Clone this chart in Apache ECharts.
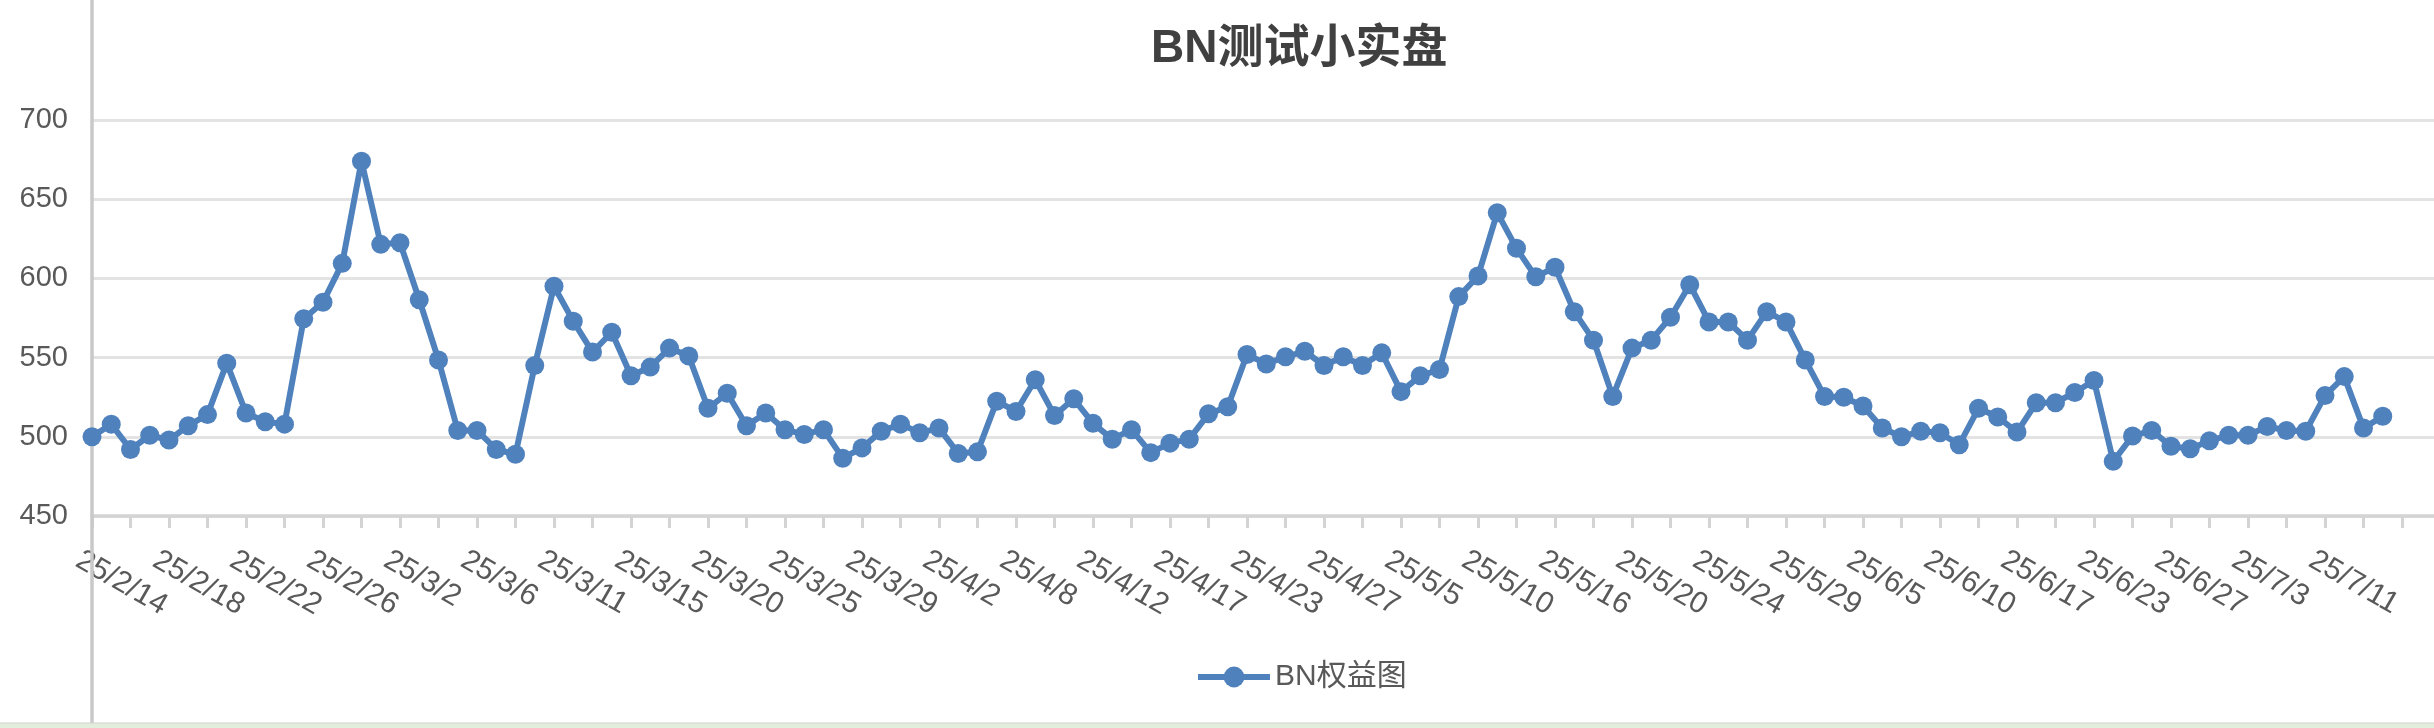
<!DOCTYPE html>
<html>
<head>
<meta charset="utf-8">
<script src="https://cdn.jsdelivr.net/npm/echarts@6/dist/echarts.min.js"></script>
<style>
  html, body { margin: 0; padding: 0; background: #ffffff; }
  #chart { width: 2434px; height: 728px; }
</style>
</head>
<body>
<div id="chart"></div>
<script>
// ---- data ----
const titleText = 'BN测试小实盘';
const seriesName = 'BN权益图';

const categories = [
  '25/2/14','25/2/15','25/2/16','25/2/17',
  '25/2/18','25/2/19','25/2/20','25/2/21',
  '25/2/22','25/2/23','25/2/24','25/2/25',
  '25/2/26','25/2/27','25/2/28','25/3/1',
  '25/3/2','25/3/3','25/3/4','25/3/5',
  '25/3/6','25/3/7','25/3/8','25/3/10',
  '25/3/11','25/3/12','25/3/13','25/3/14',
  '25/3/15','25/3/16','25/3/17','25/3/19',
  '25/3/20','25/3/21','25/3/22','25/3/24',
  '25/3/25','25/3/26','25/3/27','25/3/28',
  '25/3/29','25/3/30','25/3/31','25/4/1',
  '25/4/2','25/4/3','25/4/5','25/4/7',
  '25/4/8','25/4/9','25/4/10','25/4/11',
  '25/4/12','25/4/13','25/4/15','25/4/16',
  '25/4/17','25/4/18','25/4/20','25/4/22',
  '25/4/23','25/4/24','25/4/25','25/4/26',
  '25/4/27','25/4/29','25/5/1','25/5/3',
  '25/5/5','25/5/6','25/5/7','25/5/9',
  '25/5/10','25/5/11','25/5/13','25/5/15',
  '25/5/16','25/5/17','25/5/18','25/5/19',
  '25/5/20','25/5/21','25/5/22','25/5/23',
  '25/5/24','25/5/25','25/5/26','25/5/28',
  '25/5/29','25/5/31','25/6/2','25/6/4',
  '25/6/5','25/6/6','25/6/8','25/6/9',
  '25/6/10','25/6/12','25/6/14','25/6/16',
  '25/6/17','25/6/19','25/6/20','25/6/22',
  '25/6/23','25/6/24','25/6/25','25/6/26',
  '25/6/27','25/6/29','25/7/1','25/7/2',
  '25/7/3','25/7/5','25/7/7','25/7/9',
  '25/7/11','25/7/13','25/7/15','25/7/17'
];

const equity = [
  500, 508, 492, 501, 498, 507, 514, 546.5, 515, 509.5,
  508, 574.5, 585, 609.5, 674, 621.5, 622.5, 586.5, 548.5, 504,
  504, 492, 489, 545, 595, 573, 553.5, 566, 538.5, 544,
  556, 551, 518, 527.5, 507, 515, 504.5, 501.5, 504.5, 486.5,
  493, 503.5, 508, 502.5, 505.5, 489.5, 490.5, 522.5, 516, 536,
  513.5, 524, 508.5, 498.5, 504.5, 490, 496, 498.5, 514.5, 519,
  552, 546, 550.5, 554, 545, 550.5, 545, 553, 528.5, 538.5,
  542.5, 588.5, 601.5, 641.5, 619, 601, 607, 579, 561, 525.5,
  556, 561, 575.5, 596, 572.5, 572.5, 561, 579, 572.5, 548.5,
  525.5, 525, 519.5, 505.5, 500, 503.5, 502.5, 495, 518, 512.5,
  503, 521.5, 521.5, 528, 535.5, 484.5, 500.5, 504, 494, 492.5,
  497.5, 501, 501, 506.5, 504, 503.5, 526, 538, 505.5, 513
];

const yMin = 450;
const yMax = 700;
const yStep = 50;

// ---- chart ----
const FONT = '"Liberation Sans", "Noto Sans CJK SC", Arial, sans-serif';
const BLUE = '#4F81BD';
const chart = echarts.init(document.getElementById('chart'), null, { renderer: 'canvas' });

chart.setOption({
  backgroundColor: '#ffffff',
  animation: false,
  title: {
    text: titleText,
    left: 1151,
    top: 26,
    padding: 0,
    textStyle: { fontSize: 46, fontWeight: 'bold', color: '#404040', fontFamily: FONT }
  },
  legend: {
    data: [seriesName],
    left: 1195,
    top: 662,
    padding: 0,
    itemWidth: 72,
    itemHeight: 26,
    itemGap: 8,
    lineStyle: { width: 6 },
    textStyle: { fontSize: 30, color: '#595959', fontFamily: FONT }
  },
  grid: {
    left: 92,
    top: 120,
    height: 396,
    width: 2367.75,
    containLabel: false,
    outerBoundsMode: 'none'
  },
  xAxis: {
    type: 'category',
    data: categories,
    boundaryGap: false,
    max: 123,
    axisLine: { show: true, lineStyle: { color: '#d4d4d4', width: 3.5 } },
    axisTick: { show: true, interval: 1, length: 12, lineStyle: { color: '#d4d4d4', width: 3 } },
    axisLabel: {
      interval: 3,
      rotate: -30,
      margin: 50,
      padding: [0, 0, 0, -16],
      fontSize: 30,
      color: '#595959',
      fontFamily: FONT,
      formatter: function (v) { return v == null ? '' : v; }
    },
    splitLine: { show: false }
  },
  yAxis: {
    type: 'value',
    min: yMin,
    max: yMax,
    interval: yStep,
    axisLine: { show: false },
    axisTick: { show: false },
    axisLabel: { fontSize: 29, color: '#595959', fontFamily: FONT, margin: 24 },
    splitLine: { show: true, lineStyle: { color: '#e3e3e3', width: 3 } }
  },
  graphic: [
    {
      type: 'line', z: 1,
      shape: { x1: 92, y1: 0, x2: 92, y2: 728 },
      style: { stroke: '#c9c9c9', lineWidth: 3.5 }
    },
    {
      type: 'rect', z: 1,
      shape: { x: 0, y: 723, width: 2434, height: 5 },
      style: { fill: '#e2eedc' }
    },
    {
      type: 'line', z: 1,
      shape: { x1: 0, y1: 723, x2: 2434, y2: 723 },
      style: { stroke: '#d2d2d2', lineWidth: 1 }
    }
  ],
  series: [
    {
      name: seriesName,
      type: 'line',
      data: equity,
      symbol: 'circle',
      symbolSize: 19,
      showSymbol: true,
      showAllSymbol: true,
      lineStyle: { color: BLUE, width: 6 },
      itemStyle: { color: BLUE, borderWidth: 0 },
      z: 3
    }
  ]
});
</script>
</body>
</html>
